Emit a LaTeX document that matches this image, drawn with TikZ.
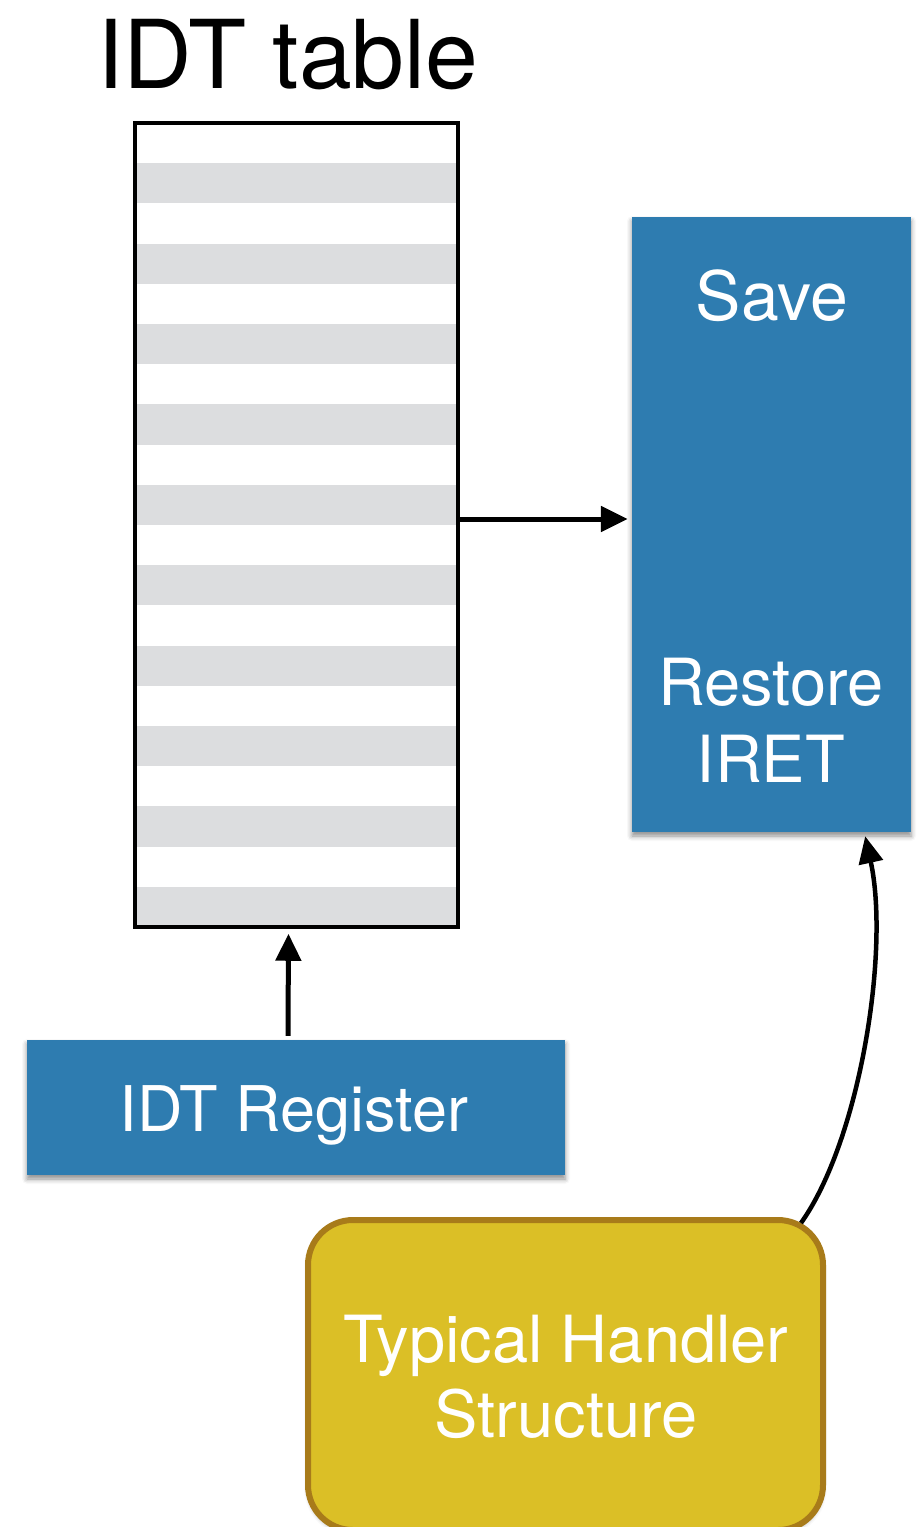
\documentclass[tikz,border=0pt]{standalone}
\usepackage{fontspec}
\setmainfont{TeX Gyre Heros}
\usetikzlibrary{arrows.meta,shadows.blur}
\definecolor{cellgray}{HTML}{DCDDDF}
\definecolor{boxblue}{HTML}{2E7CB0}
\definecolor{handgold}{HTML}{DBBF26}
\definecolor{handedge}{HTML}{A87B1A}
\begin{document}
\begin{tikzpicture}[x=1pt,y=-1pt,
  bluebox/.style={fill=boxblue, draw=none, inner sep=0pt,
    blur shadow={shadow xshift=0pt, shadow yshift=-4pt,
      shadow blur radius=5pt, shadow opacity=45}},
  lbl/.style={text=white, inner sep=0pt, anchor=base,
    font=\fontsize{65}{65}\selectfont},
  conn/.style={line width=5pt, -{Triangle[length=27pt,width=25pt]}}]
\useasboundingbox (0,0) rectangle (919,1527);

% title
\node[inner sep=0pt, anchor=base, font=\fontsize{95}{95}\selectfont]
  (title) at (288,88) {IDT table};

% descriptor table: alternating rows, then the frame
\foreach \i in {1,3,...,19}
  \fill[cellgray] (136,{123+\i*40.2}) rectangle (457,{123+(\i+1)*40.2});
\node[draw, line width=3.5pt, minimum width=323pt, minimum height=804pt,
  inner sep=0pt] (tbl) at (296.5,525) {};

% handler code block
\node[bluebox, minimum width=279pt, minimum height=615pt] (hand) at (771.5,524.5) {};
\node[lbl, font=\fontsize{68}{68}\selectfont] (save) at (772,320) {Save};
\node[lbl] (restore) at (771,705) {Restore};
\node[lbl] (iret) at (771,782) {IRET};

% register
\node[bluebox, minimum width=538pt, minimum height=135pt] (reg) at (296,1107.5) {};
\node[lbl, font=\fontsize{63}{63}\selectfont] (regtxt) at (294,1131) {IDT Register};

% typical handler box
\node[draw=handedge, fill=handgold, line width=6pt, rounded corners=45pt,
  minimum width=515pt, minimum height=310pt, inner sep=0pt,
  blur shadow={shadow xshift=0pt, shadow yshift=-3pt,
    shadow blur radius=4pt, shadow opacity=30}]
  (ts) at (565.5,1375) {};
\node[lbl] (ts1) at (566,1362) {Typical Handler};
\node[lbl] (ts2) at (566,1437) {Structure};

% connectors
\draw[conn, shorten >=4pt] ([yshift=6pt]tbl.east) -- ([yshift=6pt]tbl.east -| hand.west);
\draw[conn, shorten >=5pt, shorten <=4pt]
  ([xshift=-8pt]reg.north) -- ([xshift=-8pt]tbl.south);
\draw[line width=4.5pt, -{Triangle[length=27pt,width=24pt]}]
  ([xshift=-25pt,yshift=-6pt]ts.north east)
  .. controls (860,1140) and (890,950) ..
  ([xshift=-46pt,yshift=-4pt]hand.south east);
\end{tikzpicture}
\end{document}
